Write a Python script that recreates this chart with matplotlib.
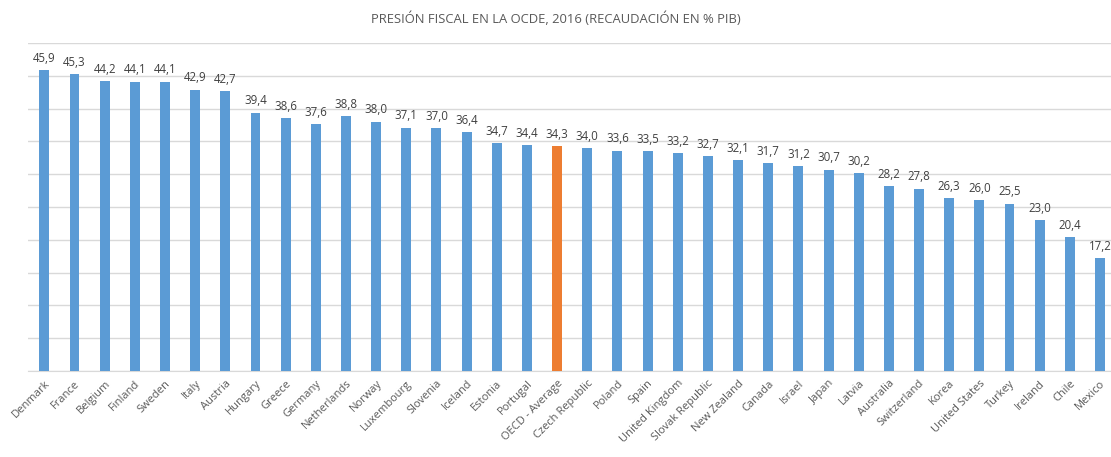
import matplotlib.pyplot as plt

countries = ['Denmark', 'France', 'Belgium', 'Finland', 'Sweden', 'Italy', 'Austria',
             'Hungary', 'Greece', 'Germany', 'Netherlands', 'Norway', 'Luxembourg',
             'Slovenia', 'Iceland', 'Estonia', 'Portugal', 'OECD - Average',
             'Czech Republic', 'Poland', 'Spain', 'United Kingdom', 'Slovak Republic',
             'New Zealand', 'Canada', 'Israel', 'Japan', 'Latvia', 'Australia',
             'Switzerland', 'Korea', 'United States', 'Turkey', 'Ireland', 'Chile', 'Mexico']
values = [45.9, 45.3, 44.2, 44.1, 44.1, 42.9, 42.7, 39.4, 38.6, 37.6, 38.8, 38.0, 37.1,
          37.0, 36.4, 34.7, 34.4, 34.3, 34.0, 33.6, 33.5, 33.2, 32.7, 32.1, 31.7, 31.2,
          30.7, 30.2, 28.2, 27.8, 26.3, 26.0, 25.5, 23.0, 20.4, 17.2]
highlight = 'OECD - Average'

plt.rcParams['font.family'] = ['Open Sans', 'DejaVu Sans']

fig = plt.figure(figsize=(11.11, 4.57), dpi=100)
ax = fig.add_axes([0.025, 0.188, 0.98, 0.718])

colors = ['#ED7D31' if c == highlight else '#5B9BD5' for c in countries]
x = range(len(countries))
bars = ax.bar(x, values, width=0.33, color=colors, zorder=3)

for b, v in zip(bars, values):
    ax.text(b.get_x() + b.get_width() / 2, v + 0.8, f'{v:.1f}'.replace('.', ','),
            ha='center', va='bottom', fontsize=8.3, color='#404040')

ax.set_ylim(0, 50)
ax.set_xlim(-0.55, len(countries) - 0.45)
ax.set_yticks(range(0, 51, 5))
ax.set_yticklabels([])
ax.tick_params(axis='y', length=0)
ax.grid(axis='y', color='#D9D9D9', linewidth=1, zorder=0)
for s in ['top', 'right', 'left']:
    ax.spines[s].set_visible(False)
ax.spines['bottom'].set_color('#D9D9D9')

ax.set_xticks(list(x))
ax.set_xticklabels(countries, rotation=45, ha='right', rotation_mode='anchor',
                   fontsize=8, color='#595959')
ax.tick_params(axis='x', length=0, pad=5)

fig.text(0.5, 0.958, 'PRESIÓN FISCAL EN LA OCDE, 2016 (RECAUDACIÓN EN % PIB)',
         ha='center', va='center', fontsize=9.4, color='#595959')

plt.savefig('out.png', dpi=100)
